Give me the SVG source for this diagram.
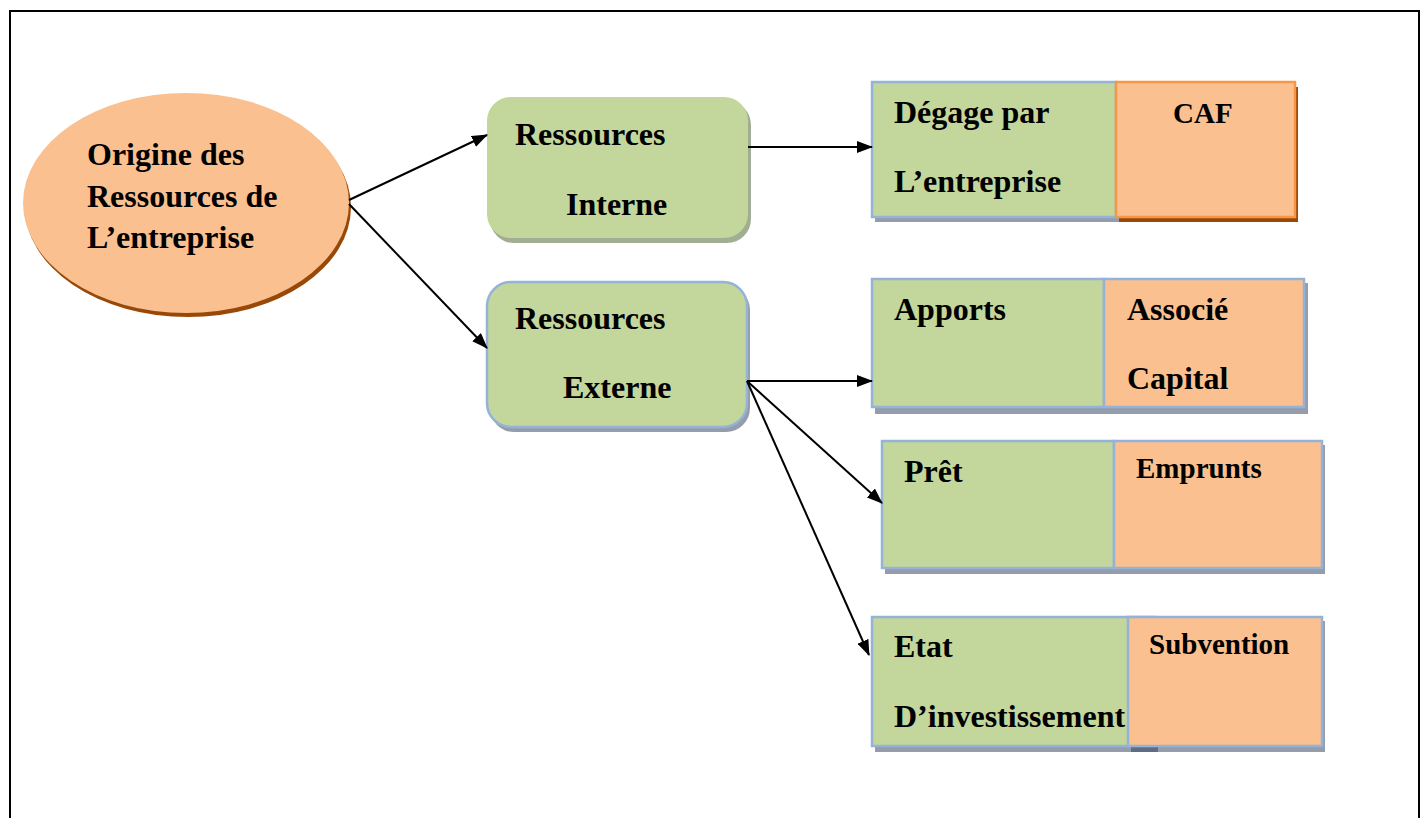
<svg xmlns="http://www.w3.org/2000/svg" width="1422" height="818" viewBox="0 0 1422 818">
<defs>
<style>
.t{font-family:"Liberation Serif","Times New Roman",serif;font-weight:bold;font-size:32px;fill:#000}
.s{font-size:29px}
.g{fill:#C3D69B}
.o{fill:#FAC090}
.bb{stroke:#95B3D7;stroke-width:2.5}
.ob{stroke:#F79646;stroke-width:2.5}
.sh{fill:#2B3B5A;fill-opacity:0.5}
.conn{stroke:#000;stroke-width:2;fill:none}
</style>
<marker id="ah" markerUnits="userSpaceOnUse" markerWidth="16" markerHeight="12" refX="15" refY="6" orient="auto">
<path d="M0,0 L16,6 L0,12 Z" fill="#000"/>
</marker>
</defs>
<rect x="0" y="0" width="1422" height="818" fill="#fff"/>
<rect x="10" y="11" width="1409" height="830" fill="none" stroke="#000" stroke-width="2"/>

<g id="origine">
<ellipse cx="188" cy="207" rx="163" ry="110" fill="#984807"/>
<ellipse cx="186" cy="203" rx="163" ry="110" fill="#FAC090"/>
<text class="t" x="87" y="165">Origine des</text>
<text class="t" x="87" y="207">Ressources de</text>
<text class="t" x="87" y="248">L’entreprise</text>
</g>

<g id="interne">
<rect x="490" y="101" width="261" height="142" rx="24" fill="#8A9A78" fill-opacity="0.8"/>
<rect x="487" y="97" width="261" height="141" rx="24" class="g"/>
<text class="t" x="515" y="145">Ressources</text>
<text class="t" x="566" y="215">Interne</text>
</g>

<g id="externe">
<rect x="490" y="286" width="260" height="146" rx="24" class="sh"/>
<rect x="487" y="282" width="260" height="145" rx="24" class="g bb"/>
<text class="t" x="515" y="329">Ressources</text>
<text class="t" x="563" y="398">Externe</text>
</g>

<g id="degage">
<rect x="875" y="86" width="244" height="136" class="sh"/>
<rect x="872" y="82" width="244" height="135" class="g bb"/>
<text class="t" x="894" y="123">Dégage par</text>
<text class="t" x="894" y="192">L’entreprise</text>
</g>
<g id="caf">
<rect x="1119" y="87" width="179" height="135" fill="#984807"/>
<rect x="1116" y="82" width="179" height="135" class="o ob"/>
<text class="t s" x="1173" y="123">CAF</text>
</g>

<g id="apports">
<rect x="875" y="283" width="232" height="131" class="sh"/>
<rect x="872" y="279" width="232" height="128" class="g bb"/>
<text class="t" x="894" y="320">Apports</text>
</g>
<g id="associe">
<rect x="1107" y="283" width="201" height="131" class="sh"/>
<rect x="1104" y="279" width="200" height="128" class="o bb"/>
<text class="t" x="1127" y="320">Associé</text>
<text class="t" x="1127" y="389">Capital</text>
</g>

<g id="pret">
<rect x="885" y="445" width="232" height="129" class="sh"/>
<rect x="882" y="441" width="232" height="127" class="g bb"/>
<text class="t" x="904" y="482">Prêt</text>
</g>
<g id="emprunts">
<rect x="1117" y="445" width="208" height="129" class="sh"/>
<rect x="1114" y="441" width="208" height="127" class="o bb"/>
<text class="t s" x="1136" y="478">Emprunts</text>
</g>

<g id="etat">
<rect x="875" y="621" width="283" height="131" class="sh"/>
<rect x="872" y="617" width="283" height="129" class="g bb"/>
<text class="t" x="894" y="657">Etat</text>
<text class="t" x="894" y="727">D’investissement</text>
</g>
<g id="subvention">
<rect x="1131" y="621" width="194" height="131" class="sh"/>
<rect x="1128" y="617" width="194" height="129" class="o bb"/>
<text class="t s" x="1149" y="654">Subvention</text>
</g>

<g id="connectors">
<line class="conn" x1="349" y1="200" x2="487" y2="135" marker-end="url(#ah)"/>
<line class="conn" x1="349" y1="204" x2="487" y2="348" marker-end="url(#ah)"/>
<line class="conn" x1="748" y1="147" x2="872" y2="147" marker-end="url(#ah)"/>
<line class="conn" x1="747" y1="381" x2="872" y2="381" marker-end="url(#ah)"/>
<line class="conn" x1="747" y1="381" x2="882" y2="503" marker-end="url(#ah)"/>
<line class="conn" x1="747" y1="381" x2="869" y2="655" marker-end="url(#ah)"/>
</g>
</svg>
